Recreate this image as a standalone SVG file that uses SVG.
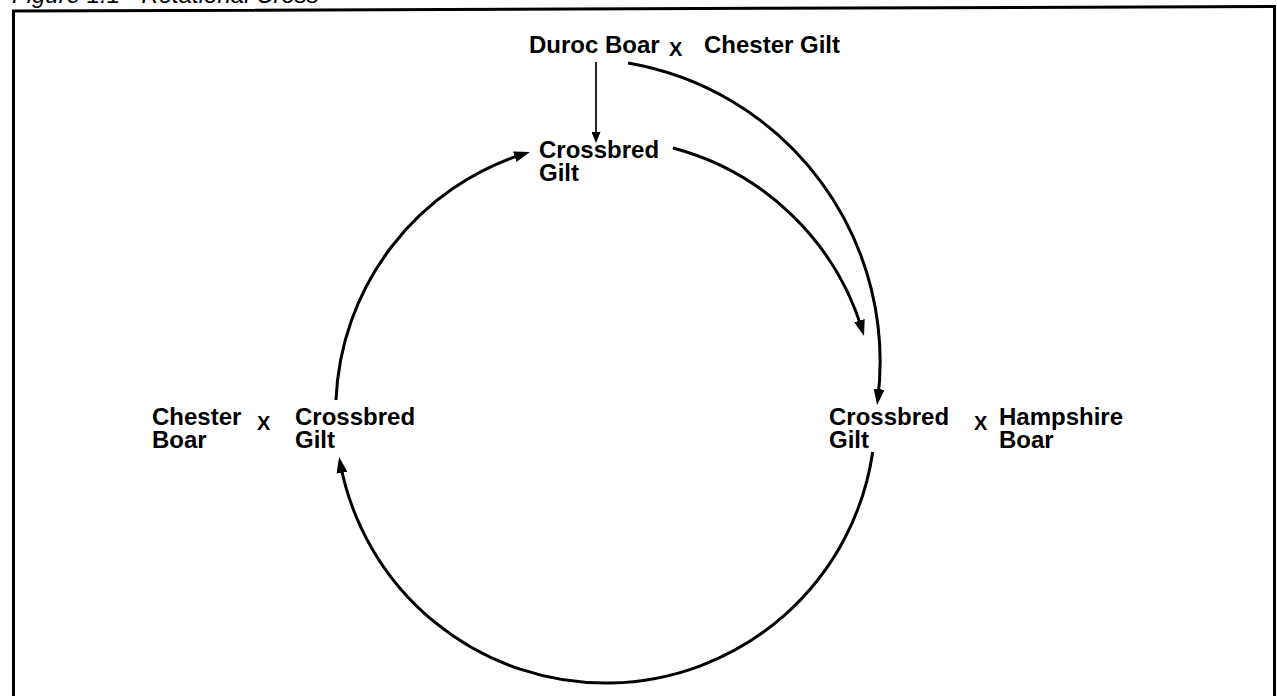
<svg xmlns="http://www.w3.org/2000/svg" width="1277" height="696" viewBox="0 0 1277 696">
  <style>
    .lbl { font-family: "Liberation Sans", Arial, Helvetica, sans-serif; font-weight: bold; font-size: 24px; fill: #000; }
    .x { font-family: "Liberation Sans", Arial, Helvetica, sans-serif; font-weight: bold; font-size: 20px; fill: #000; }
    .cap { font-family: "Liberation Sans", Arial, Helvetica, sans-serif; font-style: italic; font-size: 24px; fill: #000; }
    .conn { fill: none; stroke: #000; stroke-width: 3; marker-end: url(#arrow); }
    .thin { fill: none; stroke: #000; stroke-width: 1.7; marker-end: url(#arrowSmall); }
    .frame { fill: none; stroke: #000; stroke-width: 3; }
  </style>
  <defs>
    <marker id="arrow" viewBox="0 0 16 11" markerUnits="userSpaceOnUse" markerWidth="16" markerHeight="11" refX="11" refY="5.5" orient="auto">
      <path d="M0,0 L16,5.5 L0,11 z" fill="#000"/>
    </marker>
    <marker id="arrowSmall" viewBox="0 0 11 9" markerUnits="userSpaceOnUse" markerWidth="11" markerHeight="9" refX="8" refY="4.5" orient="auto">
      <path d="M0,0 L11,4.5 L0,9 z" fill="#000"/>
    </marker>
  </defs>

  <rect width="1277" height="696" fill="#fff"/>

  <text class="cap" x="12" y="3">Figure 1.1 - Rotational Cross</text>
  <path class="frame" d="M13.5,710 L13.5,11 L1274.5,6.5 L1274.5,710"/>

  <g id="connectors">
    <path class="thin" d="M596,62 L596,140"/>
    <path class="conn" d="M628,63 A303,303 0 0,1 877.7,400"/>
    <path class="conn" d="M673,148 A270,270 0 0,1 862.6,331.2"/>
    <path class="conn" d="M872.7,452 A270,270 0 0,1 340,462"/>
    <path class="conn" d="M336,400 A270,270 0 0,1 525.2,153.4"/>
  </g>

  <g id="node-duroc-chester">
    <text class="lbl" x="529" y="53">Duroc Boar</text>
    <text class="x" x="669" y="56">X</text>
    <text class="lbl" x="704" y="53">Chester Gilt</text>
  </g>

  <g id="node-crossbred-top">
    <text class="lbl" x="539" y="158">Crossbred</text>
    <text class="lbl" x="539" y="181">Gilt</text>
  </g>

  <g id="node-left">
    <text class="lbl" x="152" y="425">Chester</text>
    <text class="lbl" x="152" y="448">Boar</text>
    <text class="x" x="257" y="430">X</text>
    <text class="lbl" x="295" y="425">Crossbred</text>
    <text class="lbl" x="295" y="448">Gilt</text>
  </g>

  <g id="node-right">
    <text class="lbl" x="829" y="425">Crossbred</text>
    <text class="lbl" x="829" y="448">Gilt</text>
    <text class="x" x="974" y="430">X</text>
    <text class="lbl" x="999" y="425">Hampshire</text>
    <text class="lbl" x="999" y="448">Boar</text>
  </g>
</svg>
